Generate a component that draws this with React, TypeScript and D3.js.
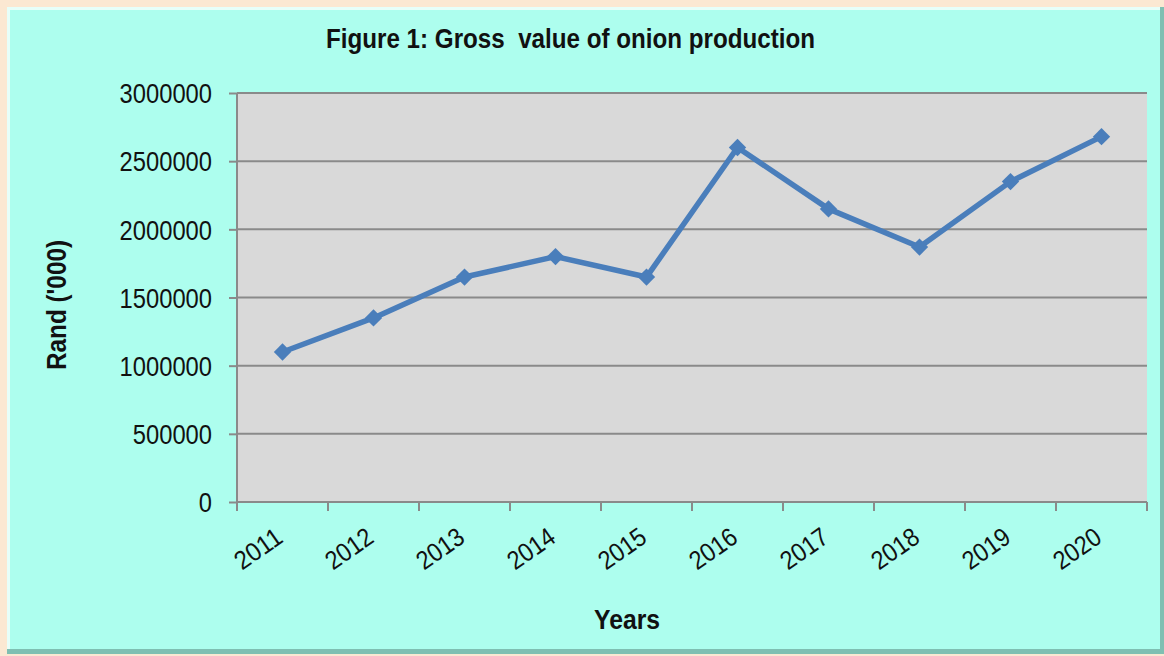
import React, { useEffect, useRef } from "react";
import * as d3 from "d3";

const years = ["2011", "2012", "2013", "2014", "2015", "2016", "2017", "2018", "2019", "2020"];
const grossValue = [1100000, 1350000, 1650000, 1800000, 1650000, 2600000, 2150000, 1870000, 2350000, 2680000];
const yTicks = [0, 500000, 1000000, 1500000, 2000000, 2500000, 3000000];

const FONT = "'Liberation Sans Narrow', 'Arial Narrow', 'Liberation Sans', Arial, sans-serif";

const App = () => {
  const ref = useRef<SVGSVGElement>(null);

  useEffect(() => {
    const W = 1164;
    const H = 656;
    const margin = { top: 93, right: 17, bottom: 154, left: 237 };
    const width = W - margin.left - margin.right;
    const height = H - margin.top - margin.bottom;

    const root = d3.select(ref.current);
    root.selectAll("*").remove();

    // page background + card with a small bevel
    root.append("rect").attr("width", W).attr("height", H).attr("fill", "#fbe8d2");
    root.append("rect").attr("x", 7).attr("y", 7).attr("width", 1157).attr("height", 647).attr("fill", "#7fbfb2");
    root.append("rect").attr("x", 7).attr("y", 7).attr("width", 1153).attr("height", 642).attr("fill", "#e6fff9");
    root.append("rect").attr("x", 10).attr("y", 10).attr("width", 1150).attr("height", 639).attr("fill", "#adfeee");

    const svg = root.append("g").attr("transform", `translate(${margin.left}, ${margin.top})`);

    const x = d3.scaleBand().domain(years).range([0, width]);
    const y = d3.scaleLinear().domain([0, 3000000]).range([height, 0]);

    svg.append("rect").attr("width", width).attr("height", height).attr("fill", "#d9d9d9");

    svg.append("g")
      .selectAll("line")
      .data(yTicks.filter(d => d > 0))
      .enter()
      .append("line")
      .attr("x1", 0)
      .attr("x2", width)
      .attr("y1", d => y(d))
      .attr("y2", d => y(d))
      .attr("stroke", "#8a8a8a")
      .attr("stroke-width", 2);

    const yAxis = svg.append("g")
      .call(d3.axisLeft(y).tickValues(yTicks).tickFormat(d3.format("d")).tickSize(8).tickPadding(17));
    yAxis.select(".domain").attr("stroke", "#8a8a8a").attr("stroke-width", 2).attr("d", `M0,0V${height}`);
    yAxis.selectAll(".tick line").attr("stroke", "#8a8a8a").attr("stroke-width", 2);
    yAxis.selectAll<SVGTextElement, number>("text")
      .attr("font-family", FONT)
      .attr("font-size", 27)
      .attr("fill", "#111")
      .attr("dy", "0.36em")
      .attr("textLength", d => String(d).length * 13.2)
      .attr("lengthAdjust", "spacingAndGlyphs");

    const xAxis = svg.append("g").attr("transform", `translate(0, ${height})`);
    xAxis.append("line").attr("x1", 0).attr("x2", width).attr("stroke", "#8a8a8a").attr("stroke-width", 2);
    xAxis.selectAll(".xt")
      .data(d3.range(years.length + 1))
      .enter()
      .append("line")
      .attr("x1", i => i * x.bandwidth())
      .attr("x2", i => i * x.bandwidth())
      .attr("y1", 0)
      .attr("y2", 9)
      .attr("stroke", "#8a8a8a")
      .attr("stroke-width", 2);
    xAxis.selectAll(".xl")
      .data(years)
      .enter()
      .append("text")
      .attr("transform", d => `translate(${(x(d) as number) + x.bandwidth() / 2 + 2}, 39) rotate(-35)`)
      .attr("text-anchor", "end")
      .attr("font-family", FONT)
      .attr("font-size", 26)
      .attr("fill", "#111")
      .attr("textLength", 52)
      .attr("lengthAdjust", "spacingAndGlyphs")
      .text(d => d);

    const line = d3.line<number>()
      .x((_, i) => (x(years[i]) as number) + x.bandwidth() / 2)
      .y(d => y(d));

    svg.append("path")
      .datum(grossValue)
      .attr("d", line)
      .attr("fill", "none")
      .attr("stroke", "#4a7ebb")
      .attr("stroke-width", 5.5)
      .attr("stroke-linejoin", "round");

    svg.selectAll(".marker")
      .data(grossValue)
      .enter()
      .append("path")
      .attr("d", d3.symbol(d3.symbolSquare, 150))
      .attr("transform", (d, i) => `translate(${(x(years[i]) as number) + x.bandwidth() / 2}, ${y(d)}) rotate(45)`)
      .attr("fill", "#4a7ebb");

    root.append("text")
      .attr("x", 326)
      .attr("y", 48)
      .attr("font-family", FONT)
      .attr("font-weight", "bold")
      .attr("font-size", 27)
      .attr("fill", "#111")
      .attr("xml:space", "preserve")
      .attr("textLength", 489)
      .attr("lengthAdjust", "spacingAndGlyphs")
      .text("Figure 1: Gross  value of onion production");

    root.append("text")
      .attr("transform", "translate(66, 305) rotate(-90)")
      .attr("text-anchor", "middle")
      .attr("font-family", FONT)
      .attr("font-weight", "bold")
      .attr("font-size", 27)
      .attr("fill", "#111")
      .attr("textLength", 130)
      .attr("lengthAdjust", "spacingAndGlyphs")
      .text("Rand ('000)");

    root.append("text")
      .attr("x", 627)
      .attr("y", 629)
      .attr("text-anchor", "middle")
      .attr("font-family", FONT)
      .attr("font-weight", "bold")
      .attr("font-size", 27)
      .attr("fill", "#111")
      .attr("textLength", 66)
      .attr("lengthAdjust", "spacingAndGlyphs")
      .text("Years");
  }, []);

  return <svg ref={ref} width={1164} height={656} style={{ position: "absolute", left: 0, top: 0 }}></svg>;
};

export default App;
